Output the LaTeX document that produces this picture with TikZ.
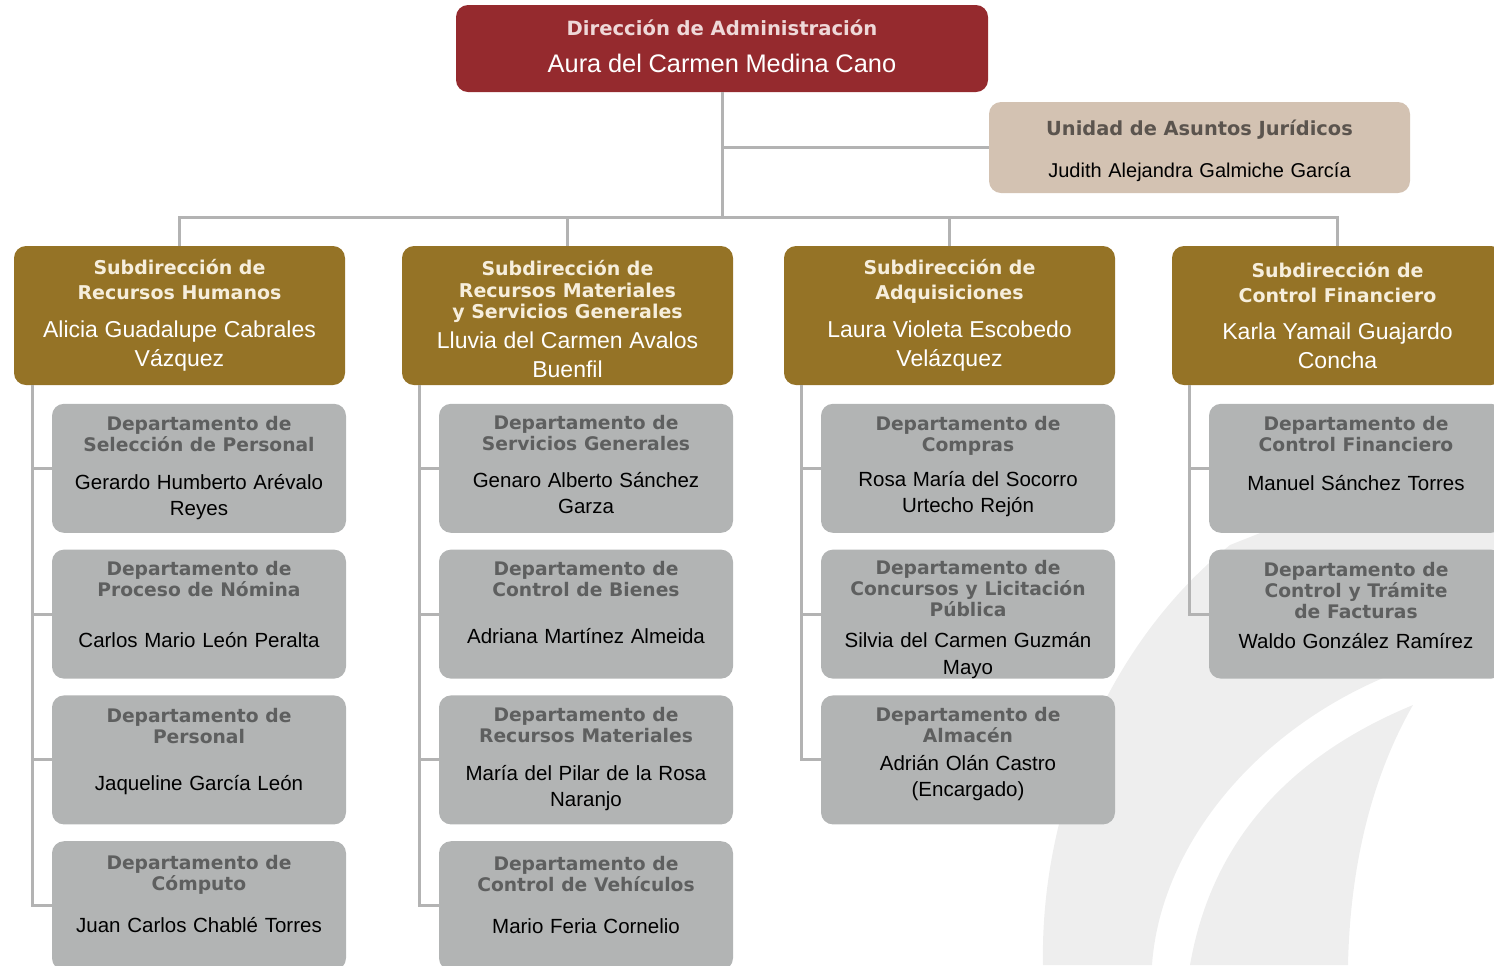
\documentclass[tikz,border=0pt]{standalone}
\usepackage{fontspec}
\setmainfont{Liberation Sans}
\newfontfamily\headfont{DejaVu Sans}
\usetikzlibrary{positioning}
\setlength{\parindent}{0pt}

\definecolor{dirFill}{HTML}{952A2E}
\definecolor{dirText}{HTML}{EED8D8}
\definecolor{jurFill}{HTML}{D3C2B2}
\definecolor{jurText}{HTML}{5B544E}
\definecolor{subFill}{HTML}{957326}
\definecolor{subText}{HTML}{F6EEDC}
\definecolor{depFill}{HTML}{B2B4B4}
\definecolor{depText}{HTML}{5E5F5F}
\definecolor{lineGray}{HTML}{B3B3B3}
\definecolor{wmGray}{HTML}{EEEEEE}

\newcommand{\dirT}{\headfont\bfseries\fontsize{9.8}{12}\selectfont\color{dirText}}
\newcommand{\dirN}{\fontsize{12.7}{15}\selectfont}
\newcommand{\jurT}{\headfont\bfseries\fontsize{9.7}{12}\selectfont\color{jurText}}
\newcommand{\jurN}{\fontsize{10}{13}\selectfont}
\newcommand{\subT}{\headfont\bfseries\fontsize{9.5}{12.5}\selectfont\color{subText}}
\newcommand{\subN}{\fontsize{11.5}{14.5}\selectfont}
\newcommand{\depT}{\headfont\bfseries\fontsize{9.35}{10.5}\selectfont\color{depText}}
\newcommand{\depN}{\fontsize{10.25}{13}\selectfont}

\tikzset{
    link/.style = {draw=lineGray, line width=1.5pt},
    dirbox/.style = {fill=dirFill, text=white, rounded corners=6pt, text width=266pt,
        minimum width=266pt, minimum height=43.5pt, align=center, inner sep=0pt},
    jurbox/.style = {fill=jurFill, text=black, rounded corners=6pt, text width=210.5pt,
        minimum width=210.5pt, minimum height=45.5pt, align=center, inner sep=0pt},
    subbox/.style = {fill=subFill, text=white, rounded corners=6pt, text width=165.5pt,
        minimum width=165.5pt, minimum height=69.5pt, align=center, inner sep=0pt},
    depbox/.style = {fill=depFill, text=black, rounded corners=6pt, text width=147pt,
        minimum width=147pt, minimum height=64.5pt, align=center, inner sep=0pt}
}

\begin{document}
\begin{tikzpicture}[x=0.5pt, y=-0.5pt]
    \useasboundingbox (0,0) rectangle (1494,965);
    \clip (0,0) rectangle (1494,965);
    % watermark
    \fill [wmGray] (1043,965) .. controls (1040,820) and (1100,650) .. (1230,545)
        -- (1494,440) -- (1494,620) -- (1383,678)
        .. controls (1250,735) and (1160,850) .. (1152,965) -- cycle;
    \fill [wmGray] (1190,965) .. controls (1210,850) and (1280,760) .. (1413,705)
        .. controls (1370,780) and (1350,870) .. (1348,965) -- cycle;

    \node [dirbox] (dir) at (722,48.5) {{\dirT Dirección de Administración\par}\vspace{3.9pt}{\dirN Aura del Carmen Medina Cano\par}\vspace{2.2pt}};
    \node [jurbox] (jur) at (1199.5,147.5) {{\jurT\rule{0pt}{10.9pt}Unidad de Asuntos Jurídicos\par}\vspace{8.2pt}{\jurN Judith Alejandra Galmiche García\par}};

    \node [subbox] (subRH) at (179.5,315.5) {{\subT Subdirección de\\Recursos Humanos\par}\vspace{4.5pt}{\subN Alicia Guadalupe Cabrales\\Vázquez\par}};
    \node [subbox] (subRM) at (567.5,315.5) {{\subT\baselineskip=10.75pt\rule{0pt}{11.2pt}Subdirección de\\Recursos Materiales\\y Servicios Generales\par}\vspace{0.5pt}{\subN Lluvia del Carmen Avalos\\Buenfil\par}};
    \node [subbox] (subAdq) at (949.5,315.5) {{\subT Subdirección de\\Adquisiciones\par}\vspace{4.5pt}{\subN Laura Violeta Escobedo\\Velázquez\par}};
    \node [subbox] (subCF) at (1337.5,315.5) {{\subT Subdirección de\\Control Financiero\par}\vspace{4pt}{\subN Karla Yamail Guajardo\\Concha\par}};

    % Recursos Humanos
    \node [depbox, below=9pt of subRH, xshift=9.75pt] (depSel) {{\depT Departamento de\\Selección de Personal\par}\vspace{6pt}{\depN Gerardo Humberto Arévalo\\Reyes\par}};
    \node [depbox, below=8pt of depSel] (depNom) {{\depT Departamento de\\Proceso de Nómina\par}\vspace{12.5pt}{\depN Carlos Mario León Peralta\par}\vspace{9.5pt}};
    \node [depbox, below=8pt of depNom] (depPer) {{\depT Departamento de\\Personal\par}\vspace{10.5pt}{\depN Jaqueline García León\par}\vspace{8.4pt}};
    \node [depbox, below=8pt of depPer] (depCom) {{\depT Departamento de\\Cómputo\par}\vspace{8pt}{\depN Juan Carlos Chablé Torres\par}\vspace{12pt}};

    % Recursos Materiales y Servicios Generales
    \node [depbox, below=9pt of subRM, xshift=9.25pt] (depSG) {{\depT Departamento de\\Servicios Generales\par}\vspace{5.5pt}{\depN Genaro Alberto Sánchez\\Garza\par}\vspace{3.5pt}};
    \node [depbox, below=8pt of depSG] (depCB) {{\depT Departamento de\\Control de Bienes\par}\vspace{10.5pt}{\depN Adriana Martínez Almeida\par}\vspace{11.5pt}};
    \node [depbox, below=8pt of depCB] (depRM) {{\depT Departamento de\\Recursos Materiales\par}\vspace{6pt}{\depN María del Pilar de la Rosa\\Naranjo\par}\vspace{1pt}};
    \node [depbox, below=8pt of depRM] (depCV) {{\depT Departamento de\\Control de Vehículos\par}\vspace{8pt}{\depN Mario Feria Cornelio\par}\vspace{11pt}};

    % Adquisiciones
    \node [depbox, below=9pt of subAdq, xshift=9.25pt] (depCompras) {{\depT Departamento de\\Compras\par}\vspace{4.5pt}{\depN Rosa María del Socorro\\Urtecho Rejón\par}\vspace{2pt}};
    \node [depbox, below=8pt of depCompras] (depConc) {{\depT\rule{0pt}{10.5pt}Departamento de\\Concursos y Licitación\\Pública\par}\vspace{2pt}{\depN\baselineskip=13.5pt Silvia del Carmen Guzmán\\Mayo\par}\vspace{-1.6pt}};
    \node [depbox, below=8pt of depConc] (depAlm) {{\depT Departamento de\\Almacén\par}\vspace{1pt}{\depN Adrián Olán Castro\\(Encargado)\par}\vspace{5.4pt}};

    % Control Financiero
    \node [depbox, below=9pt of subCF, xshift=9.25pt] (depCF) {{\depT Departamento de\\Control Financiero\par}\vspace{6.5pt}{\depN Manuel Sánchez Torres\par}\vspace{14.5pt}};
    \node [depbox, below=8pt of depCF] (depFact) {{\depT Departamento de\\Control y Trámite\\de Facturas\par}\vspace{2pt}{\depN Waldo González Ramírez\par}\vspace{9pt}};

    % links
    \coordinate (bus) at (0,217);
    \draw [link] (dir.south) -- (dir.south |- bus);
    \draw [link] (jur.west) -- (jur.west -| dir.south);
    \draw [link] (subRH.north) |- (bus -| subCF.north) -- (subCF.north);
    \draw [link] (subRM.north) -- (subRM.north |- bus);
    \draw [link] (subAdq.north) -- (subAdq.north |- bus);

    \draw [link] ([xshift=9.5pt]subRH.south west) |- (depSel.west);
    \draw [link] ([xshift=9.5pt]subRH.south west) |- (depNom.west);
    \draw [link] ([xshift=9.5pt]subRH.south west) |- (depPer.west);
    \draw [link] ([xshift=9.5pt]subRH.south west) |- (depCom.west);
    \draw [link] ([xshift=9pt]subRM.south west) |- (depSG.west);
    \draw [link] ([xshift=9pt]subRM.south west) |- (depCB.west);
    \draw [link] ([xshift=9pt]subRM.south west) |- (depRM.west);
    \draw [link] ([xshift=9pt]subRM.south west) |- (depCV.west);
    \draw [link] ([xshift=9pt]subAdq.south west) |- (depCompras.west);
    \draw [link] ([xshift=9pt]subAdq.south west) |- (depConc.west);
    \draw [link] ([xshift=9pt]subAdq.south west) |- (depAlm.west);
    \draw [link] ([xshift=9pt]subCF.south west) |- (depCF.west);
    \draw [link] ([xshift=9pt]subCF.south west) |- (depFact.west);
\end{tikzpicture}
\end{document}
